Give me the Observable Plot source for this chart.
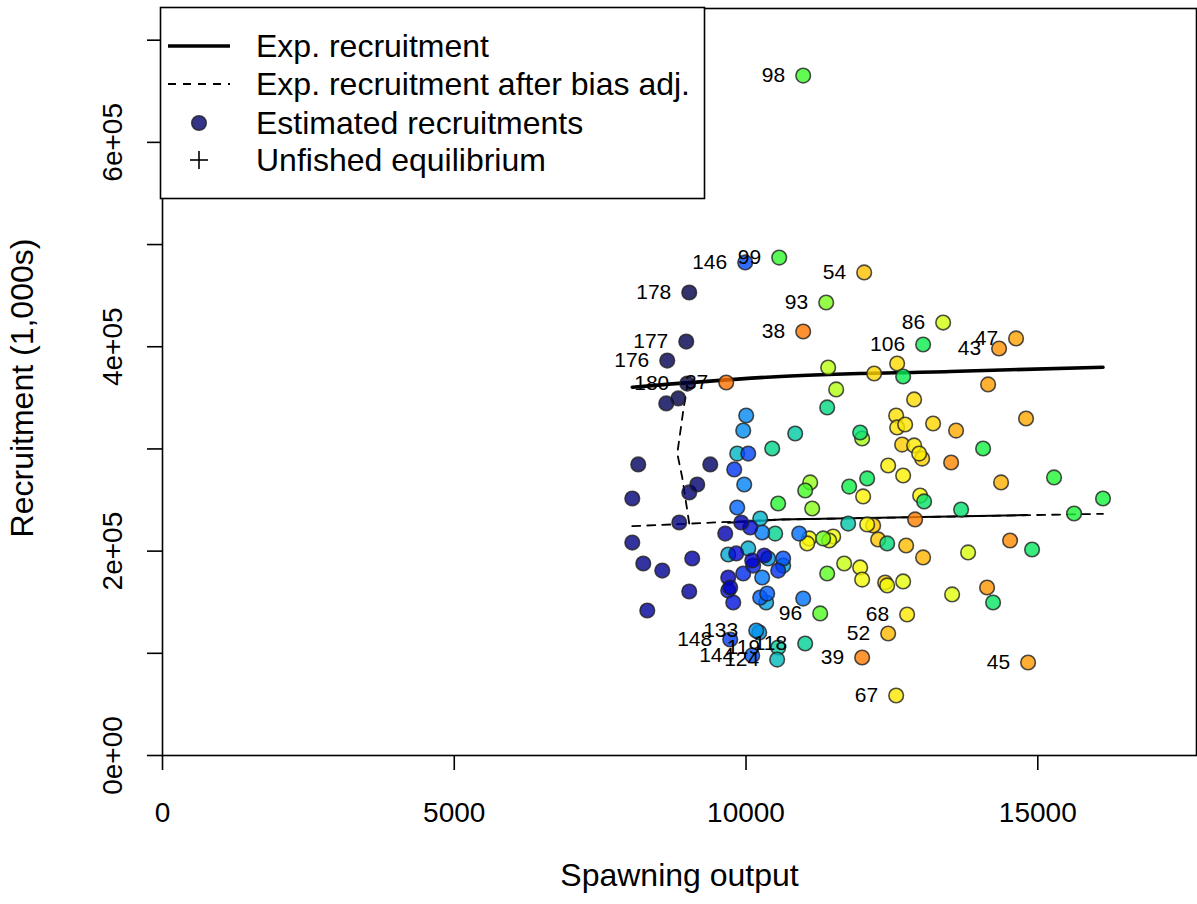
<!DOCTYPE html>
<html><head><meta charset="utf-8">
<script src="https://cdn.jsdelivr.net/npm/d3@7"></script>
<script src="https://cdn.jsdelivr.net/npm/@observablehq/plot@0.6"></script>
<style>
body{margin:0;background:#fff;font-family:"Liberation Sans",Arial,sans-serif}
#wrap{position:relative;width:1197px;height:904px}
#legend{position:absolute;left:0;top:0}
</style></head><body><div id="wrap"></div>
<script>
// ---- data ----
const years = [37,38,39,40,41,42,43,44,45,46,47,48,49,50,51,52,53,54,55,56,57,58,59,60,61,62,63,64,65,66,67,68,69,70,71,72,73,74,75,76,77,78,79,80,81,82,83,84,85,86,87,88,89,90,91,92,93,94,95,96,97,98,99,100,101,102,103,104,105,106,107,108,109,110,111,112,113,114,115,116,117,118,119,120,121,124,125,126,127,128,129,130,131,132,133,134,135,136,137,138,139,140,141,142,143,144,145,146,147,148,149,150,151,152,153,154,155,156,157,158,159,160,161,162,163,164,165,166,167,168,169,170,171,172,173,174,175,176,177,178,179,180];
const spawnOutput = [9661,10980,11990,12898,13515,14525,14337,14131,14834,14149,14628,14799,13600,14371,13035,12436,12744,12025,12179,12264,12384,12675,13018,13206,12196,12590,12881,12573,12590,12727,12573,12761,12881,12967,12436,12693,12007,12984,12076,11082,11048,11956,11990,12419,11494,11425,12693,13532,13806,13378,11682,11408,11545,11990,11100,11134,11374,11322,11391,11271,11014,10980,10569,10551,15279,15622,16118,14063,11768,13035,12693,12076,14902,14234,13052,13686,11956,12419,11391,10449,10500,11014,10551,10843,11751,10534,9849,10243,10038,9695,10637,10346,10226,10380,10175,9952,10003,9969,10277,10277,10980,10911,9849,10243,10363,10106,10637,9986,10038,9729,9798,10551,9952,10123,9695,9781,10072,9832,10106,10312,9695,9729,9918,9644,9078,9027,8308,8565,8239,8051,8856,8051,9027,9164,9387,8153,8633,8650,8976,9027,8839,8993];
const recruitment = [365000,414900,95900,231000,286700,210400,398300,164400,91000,363100,408100,329800,318000,267200,193800,119400,205500,472700,225100,211400,169300,304300,290600,324900,373800,383600,348400,332700,321000,323900,58700,138000,303400,295500,283800,274000,253500,254400,226100,212400,207500,184000,172200,166400,214300,210400,170300,157600,198700,423700,187900,379700,358200,310200,267200,241700,443300,212400,178100,139000,259300,665400,487300,246600,272100,236800,251500,300400,263200,402200,370900,271100,201600,149700,248600,240700,316100,207500,340600,300400,217200,109600,105700,315100,227000,93900,295500,231900,202600,196700,185900,149700,120400,192800,122300,318000,332700,265200,218200,174200,153600,217200,242700,154600,158500,97900,192800,482500,295500,113500,279900,181000,178100,185900,161500,149700,223100,197700,190800,195700,174200,164400,228000,217200,192800,160500,141900,181000,187900,208400,228000,251500,257400,265200,284800,284800,344500,386500,405100,453100,349400,364000];
const labeledYears = [37,38,39,43,45,47,52,54,67,68,86,93,96,98,99,106,118,119,124,133,144,146,148,176,177,178,180];

// expected recruitment (solid) and after bias adjustment (dashed)
const expSpawn = [8051,10586,13498,16118];
const expRecr = [360400,370900,375800,380000];
const adjSpawn = [8051,10586,13498,16118];
const adjRecr = [224400,230900,233800,236500];
// stretch where the year-ordered dashed path overlaps itself and reads as solid
const adjDenseSpawn = [9695,10586,13498,14815];
const adjDenseRecr = [227700,230900,233800,235400];
const rampSpawn = [9027,8907,8822,8925,8993];
const rampRecr = [227000,272000,295500,337600,362100];

const xTicks = [0,5000,10000,15000];
const yTicks = [0,100000,200000,300000,400000,500000,600000,700000];
const yTickLabels = ["0e+00","","2e+05","","4e+05","","6e+05",""];

const legendLabels = ["Exp. recruitment","Exp. recruitment after bias adj.","Estimated recruitments","Unfished equilibrium"];

// ---- colour ramp (rich.colors.short style) ----
function rich(t){
  const r = 1/(1+Math.exp(20-35*t));
  const g = Math.min(Math.max(0,-0.8+6*t-5*t*t),1);
  const b = Math.exp(-0.5*Math.pow((t-0.25)/0.15,2));
  return d3.rgb(r*255,g*255,b*255).formatHex();
}
const colorOf = y => rich((180-y)/153);

const pts = years.map((y,i)=>({year:y, x:spawnOutput[i], r:recruitment[i], col:colorOf(y)}));
const labs = pts.filter(d=>labeledYears.includes(d.year));
const toLine = (xs,ys)=>xs.map((x,i)=>({x, y:ys[i]}));
const expLine = toLine(expSpawn,expRecr);
const adjLine = toLine(adjSpawn,adjRecr);
const adjDense = toLine(adjDenseSpawn,adjDenseRecr);
const rampLine = toLine(rampSpawn,rampRecr);

const font = "Liberation Sans, Arial, Helvetica, sans-serif";
const chart = Plot.plot({
  width:1197, height:904,
  marginLeft:162, marginRight:1, marginTop:8, marginBottom:149,
  x:{domain:[0,17720]},
  y:{domain:[0,731000]},
  style:{fontFamily:font, background:"white", color:"black"},
  marks:[
    Plot.line(adjLine,{x:"x",y:"y",stroke:"black",strokeWidth:1.8,strokeDasharray:"8,7"}),
    Plot.line(adjDense,{x:"x",y:"y",stroke:"black",strokeWidth:2}),
    Plot.line(rampLine,{x:"x",y:"y",stroke:"black",strokeWidth:1.8,strokeDasharray:"8,7"}),
    Plot.line(expLine,{x:"x",y:"y",stroke:"black",strokeWidth:3.6,curve:"monotone-x"}),
    Plot.dot(pts,{x:"x",y:"r",r:7.3,fill:"col",fillOpacity:0.8,stroke:"#222",strokeOpacity:0.8,strokeWidth:1.6}),
    Plot.text(labs,{x:"x",y:"r",text:d=>String(d.year),textAnchor:"end",dx:-18,fontSize:21,fill:"black"}),
    Plot.frame({stroke:"black",strokeWidth:1.6}),
    Plot.axisX({ticks:xTicks,tickSize:15,tickPadding:32,fontSize:28,tickFormat:d=>String(d),label:null,strokeWidth:1.6}),
    Plot.axisY({ticks:yTicks,tickSize:15,tickPadding:26,tickRotate:-90,fontSize:28,tickFormat:(d)=>yTickLabels[yTicks.indexOf(d)],label:null,strokeWidth:1.6}),
    Plot.text(["Spawning output"],{frameAnchor:"bottom",dy:130,fontSize:32,fill:"black"}),
    Plot.text(["Recruitment (1,000s)"],{frameAnchor:"left",textAnchor:"middle",dx:-140,dy:6,rotate:-90,fontSize:32,fill:"black"})
  ]
});
const wrap = document.getElementById("wrap");
wrap.appendChild(chart);

// ---- legend (inside plot, top-left) ----
const svg = d3.select(wrap).append("svg").attr("id","legend").attr("width",1197).attr("height",904)
  .style("pointer-events","none").style("font-family",font);
const L = 160.5, T = 7.5, W = 544, H = 191;
svg.append("rect").attr("x",L).attr("y",T).attr("width",W).attr("height",H).attr("fill","white").attr("stroke","black").attr("stroke-width",1.6);
const rowY = [46,84,123,160];
const sx0 = 168, sx1 = 230, sxm = 199, tx = 256;
legendLabels.forEach((lab,i)=>{
  const y = rowY[i];
  if(i===0) svg.append("line").attr("x1",sx0).attr("x2",sx1).attr("y1",y).attr("y2",y).attr("stroke","black").attr("stroke-width",3.6);
  if(i===1) svg.append("line").attr("x1",sx0).attr("x2",sx1).attr("y1",y).attr("y2",y).attr("stroke","black").attr("stroke-width",1.8).attr("stroke-dasharray","8,7");
  if(i===2) svg.append("circle").attr("cx",sxm).attr("cy",y).attr("r",7.3).attr("fill",colorOf(172)).attr("fill-opacity",0.8).attr("stroke","#222").attr("stroke-opacity",0.8).attr("stroke-width",1.6);
  if(i===3){
    svg.append("line").attr("x1",sxm-9).attr("x2",sxm+9).attr("y1",y).attr("y2",y).attr("stroke","black").attr("stroke-width",1.6);
    svg.append("line").attr("x1",sxm).attr("x2",sxm).attr("y1",y-9).attr("y2",y+9).attr("stroke","black").attr("stroke-width",1.6);
  }
  svg.append("text").attr("x",tx).attr("y",y).attr("dy","0.35em").attr("font-size",32).attr("fill","black").text(lab);
});
</script></body></html>
